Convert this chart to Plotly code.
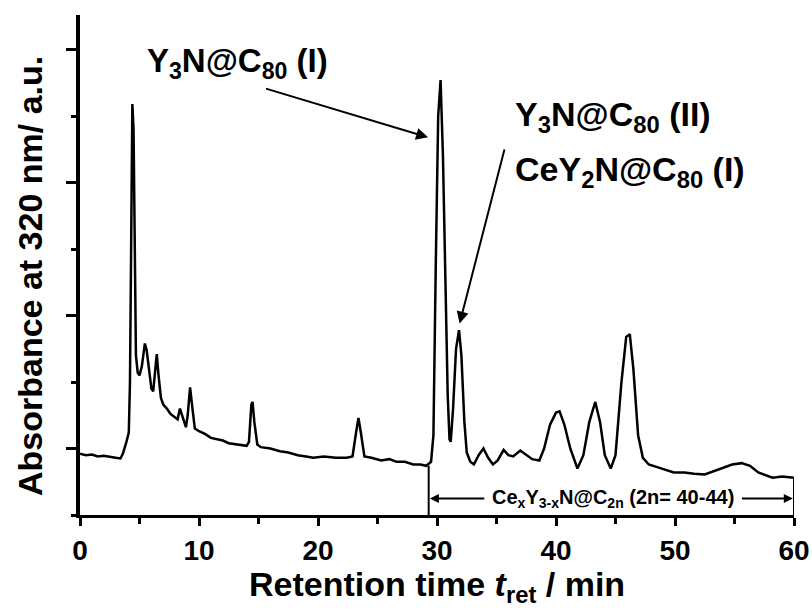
import plotly.graph_objects as go

# Retention time (min) and absorbance (a.u., arbitrary units)
time_min = [0.0, 0.5, 1.0, 1.5, 2.0, 2.5, 3.0, 3.4, 3.6, 3.9, 4.1, 4.2, 4.3, 4.4, 4.5, 4.6, 4.7, 4.85,
            5.0, 5.2, 5.45, 5.6, 5.8, 6.0, 6.15, 6.3, 6.45, 6.6, 6.8, 7.0, 7.3, 7.6, 7.9, 8.2, 8.4,
            8.6, 8.9, 9.05, 9.25, 9.45, 9.65, 10.0, 10.5, 11.0, 11.5, 12.0, 12.5, 13.0, 13.5, 14.0,
            14.2, 14.4, 14.5, 14.65, 14.9, 15.2, 16.0, 16.8, 17.5, 18.3, 19.0, 19.6, 20.5, 21.5,
            22.4, 22.9, 23.2, 23.4, 23.6, 23.9, 24.5, 25.3, 26.0, 26.6, 27.3, 28.0, 28.6, 29.1,
            29.5, 29.7, 29.9, 30.1, 30.3, 30.5, 30.7, 30.9, 31.05, 31.15, 31.35, 31.6, 31.85, 32.05,
            32.3, 32.5, 32.8, 33.1, 33.5, 33.9, 34.3, 34.7, 35.1, 35.6, 36.0, 36.4, 37.0, 37.5,
            38.0, 38.6, 39.0, 39.5, 40.0, 40.3, 40.7, 41.2, 41.8, 42.3, 42.8, 43.3, 43.7, 44.1,
            44.6, 45.0, 45.5, 45.9, 46.2, 46.5, 46.9, 47.3, 47.8, 48.5, 49.2, 49.9, 50.8, 51.6,
            52.5, 53.3, 54.0, 54.8, 55.6, 56.3, 57.0, 57.6, 58.2, 59.0, 60.0]
absorbance = [-0.04, -0.05, -0.045, -0.06, -0.055, -0.065, -0.07, -0.075, -0.04, 0.05, 0.12, 0.5, 1.9,
              2.59, 2.4, 1.3, 0.7, 0.57, 0.55, 0.62, 0.79, 0.74, 0.58, 0.45, 0.43, 0.6, 0.71, 0.55,
              0.38, 0.33, 0.3, 0.26, 0.24, 0.22, 0.30, 0.24, 0.16, 0.25, 0.46, 0.3, 0.15, 0.13, 0.11,
              0.08, 0.07, 0.06, 0.04, 0.035, 0.03, 0.02, 0.05, 0.33, 0.35, 0.2, 0.03, 0.01, 0.0,
              -0.02, -0.03, -0.05, -0.06, -0.07, -0.06, -0.07, -0.07, -0.06, 0.12, 0.23, 0.12, -0.06,
              -0.07, -0.09, -0.08, -0.1, -0.1, -0.12, -0.12, -0.13, -0.1, 0.1, 1.4, 2.5, 2.77, 2.2,
              1.3, 0.4, 0.07, 0.05, 0.3, 0.75, 0.89, 0.7, 0.2, -0.03, -0.1, -0.12, -0.05, 0.0, -0.07,
              -0.12, -0.09, -0.01, -0.05, -0.06, -0.015, -0.05, -0.08, -0.09, 0.0, 0.18, 0.27, 0.28,
              0.18, 0.0, -0.15, -0.05, 0.2, 0.35, 0.2, -0.05, -0.15, -0.05, 0.5, 0.84, 0.86, 0.6,
              0.1, -0.07, -0.12, -0.14, -0.16, -0.18, -0.18, -0.19, -0.195, -0.17, -0.15, -0.12,
              -0.11, -0.13, -0.18, -0.2, -0.22, -0.21, -0.22]

x_ticks = [0, 10, 20, 30, 40, 50, 60]
x_tick_labels = ["0", "10", "20", "30", "40", "50", "60"]

# bracket for the Ce_xY_3-xN@C_2n region
bracket_start = 29.3
bracket_end = 60.0

FONT = "Liberation Sans, Arial, sans-serif"

fig = go.Figure()
fig.add_trace(go.Scatter(x=time_min, y=absorbance, mode="lines",
                         line=dict(color="black", width=2.5), showlegend=False, hoverinfo="skip"))

fig.update_layout(
    width=812, height=611,
    margin=dict(l=80, r=18, t=15, b=96, autoexpand=False),
    paper_bgcolor="white", plot_bgcolor="white",
    font=dict(family=FONT, color="black"),
    xaxis=dict(range=[0, 60], tickvals=x_ticks, ticktext=x_tick_labels, automargin=False,
               ticks="outside", ticklen=8, tickwidth=2.5, tickcolor="black",
               minor=dict(dtick=5, ticks="outside", ticklen=6, tickwidth=2.5, tickcolor="black"),
               showline=True, linewidth=3, linecolor="black", showgrid=False, zeroline=False,
               tickfont=dict(size=28, family=FONT, weight="bold")),
    yaxis=dict(range=[-0.5, 3.26], tick0=0, dtick=1, showticklabels=False, automargin=False,
               ticks="outside", ticklen=10, tickwidth=2.5, tickcolor="black",
               minor=dict(dtick=0.5, ticks="outside", ticklen=5, tickwidth=2.5, tickcolor="black"),
               showline=True, linewidth=4, linecolor="black", showgrid=False, zeroline=False),
)

# vertical bracket edges
fig.add_shape(type="line", x0=bracket_start, x1=bracket_start, y0=-0.13, y1=-0.5,
              line=dict(color="black", width=2))
fig.add_shape(type="line", x0=bracket_end, x1=bracket_end, y0=-0.22, y1=-0.5,
              line=dict(color="black", width=2))

annotations = []
# region label
annotations.append(dict(x=44.8, y=-0.376, xref="x", yref="y", showarrow=False,
                        text="<b>Ce<sub>x</sub>Y<sub>3-x</sub>N@C<sub>2n</sub> (2n= 40-44)</b>",
                        font=dict(size=20, family=FONT)))
annotations.append(dict(x=bracket_start + 0.1, y=-0.376, ax=34.1, ay=-0.376, xref="x", yref="y",
                        axref="x", ayref="y", text="", showarrow=True, arrowhead=2, arrowsize=1,
                        arrowwidth=1.8, arrowcolor="black"))
annotations.append(dict(x=bracket_end - 0.1, y=-0.376, ax=55.5, ay=-0.376, xref="x", yref="y",
                        axref="x", ayref="y", text="", showarrow=True, arrowhead=2, arrowsize=1,
                        arrowwidth=1.8, arrowcolor="black"))
# peak labels
annotations.append(dict(x=5.5, y=2.9, xref="x", yref="y", xanchor="left", yanchor="middle",
                        showarrow=False, text="<b>Y<sub>3</sub>N@C<sub>80</sub> (I)</b>",
                        font=dict(size=33, family=FONT)))
annotations.append(dict(x=36.4, y=2.5, xref="x", yref="y", xanchor="left", yanchor="middle",
                        showarrow=False, text="<b>Y<sub>3</sub>N@C<sub>80</sub> (II)</b>",
                        font=dict(size=34, family=FONT)))
annotations.append(dict(x=36.4, y=2.08, xref="x", yref="y", xanchor="left", yanchor="middle",
                        showarrow=False, text="<b>CeY<sub>2</sub>N@C<sub>80</sub> (I)</b>",
                        font=dict(size=34, family=FONT)))
annotations.append(dict(x=29.25, y=2.34, ax=15.5, ay=2.71, xref="x", yref="y", axref="x", ayref="y",
                        text="", showarrow=True, arrowhead=2, arrowsize=1.2, arrowwidth=2,
                        arrowcolor="black"))
annotations.append(dict(x=31.9, y=0.94, ax=35.7, ay=2.26, xref="x", yref="y", axref="x", ayref="y",
                        text="", showarrow=True, arrowhead=2, arrowsize=1.2, arrowwidth=2,
                        arrowcolor="black"))
# axis titles
annotations.append(dict(x=-50 / 714, y=(515 - 276) / 500, xref="paper", yref="paper",
                        xanchor="center", yanchor="middle", textangle=-90, showarrow=False,
                        text="<b>Absorbance at 320 nm/ a.u.</b>", font=dict(size=34, family=FONT)))
annotations.append(dict(x=(437 - 80) / 714, y=(515 - 586) / 500, xref="paper", yref="paper",
                        xanchor="center", yanchor="middle", showarrow=False,
                        text="<b>Retention time <i>t</i><sub>ret</sub> / min</b>",
                        font=dict(size=34, family=FONT)))
fig.update_layout(annotations=annotations)

fig.write_html("out.html")
